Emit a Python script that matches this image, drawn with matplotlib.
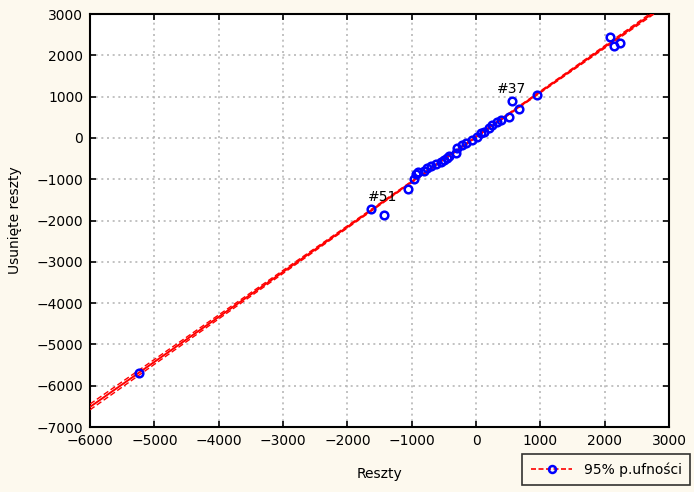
import numpy as np
import matplotlib
matplotlib.use("Agg")
import matplotlib.pyplot as plt
from matplotlib.lines import Line2D

# Residuals (x) vs deleted residuals (y)
reszty = [-5240, -1628, -1426, -1054, -961, -930, -899, -806, -760, -698, -620,
          -543, -496, -450, -419, -310, -295, -217, -155, -62, 16, 78, 124,
          202, 248, 326, 388, 512, 558, 667, 946, 2078, 2140, 2233]
usuniete = [-5700, -1722, -1867, -1237, -995, -874, -826, -801, -729, -680, -632,
            -584, -535, -487, -438, -366, -245, -172, -123, -51, 22, 119, 143,
            240, 312, 385, 433, 506, 893, 700, 1039, 2443, 2225, 2298]
labels = {"#51": (-1450, -1722), "#37": (558, 893)}
# half-width of the 95% band read at the left edge (x = -6000)
band_at_edge = 70.0

x = np.array(reszty, float)
y = np.array(usuniete, float)

bg = "#fdf9ee"
fig = plt.figure(figsize=(6.94, 4.92), dpi=100, facecolor=bg)
ax = fig.add_axes([0.1297, 0.132, 0.8343, 0.8395])
ax.set_facecolor("white")

# regression + 95% confidence band
b, a = np.polyfit(x, y, 1)
n = len(x)
xm = x.mean()
sxx = np.sum((x - xm) ** 2)
xs = np.linspace(-6000, 3000, 400)
ys = a + b * xs
shape = np.sqrt(1.0 / n + (xs - xm) ** 2 / sxx)
hw = band_at_edge * shape / shape[0]
ax.plot(xs, ys, color="red", lw=1.4, zorder=3)
ax.plot(xs, ys + hw, color="red", lw=1.0, ls=(0, (4, 2)), zorder=3)
ax.plot(xs, ys - hw, color="red", lw=1.0, ls=(0, (4, 2)), zorder=3)

ax.plot(x, y, linestyle="none", marker="o", ms=5.5, mfc="none", mec="#0000ff",
        mew=1.8, zorder=4)

for txt, (lx, ly) in labels.items():
    ax.text(lx, ly + 120, txt, fontsize=10, family="DejaVu Sans",
            ha="center", va="bottom", zorder=5)

ax.set_xlim(-6000, 3000)
ax.set_ylim(-7000, 3000)
ax.set_xticks(np.arange(-6000, 3001, 1000))
ax.set_yticks(np.arange(-7000, 3001, 1000))
ax.grid(True, color="#b8b8b8", ls=(0, (1.2, 2.2)), lw=1.2)
ax.set_axisbelow(True)
ax.tick_params(direction="in", length=4, width=1.2, top=True, right=True,
               labelsize=10, colors="black", pad=5)
for sp in ax.spines.values():
    sp.set_linewidth(1.5)
    sp.set_color("black")
for lab in ax.get_xticklabels() + ax.get_yticklabels():
    lab.set_family("DejaVu Sans")

ax.set_xlabel("Reszty", fontsize=10, family="DejaVu Sans", labelpad=14)
ax.set_ylabel("Usunięte reszty", fontsize=10, family="DejaVu Sans", labelpad=10)

h = Line2D([0], [0], color="red", ls=(0, (3, 1.5)), lw=1.2, marker="o", ms=5,
           mfc="none", mec="#0000ff", mew=1.8)
leg = fig.legend([h], ["95% p.ufności"], loc="lower right",
                 bbox_to_anchor=(0.998, 0.008), frameon=True, fancybox=False,
                 prop={"family": "DejaVu Sans", "size": 10}, handlelength=3.0,
                 borderpad=0.6, handletextpad=0.8, borderaxespad=0.2)
leg.get_frame().set_edgecolor("black")
leg.get_frame().set_linewidth(1.2)
leg.get_frame().set_facecolor(bg)

fig.savefig("out.png", dpi=100, facecolor=bg)
